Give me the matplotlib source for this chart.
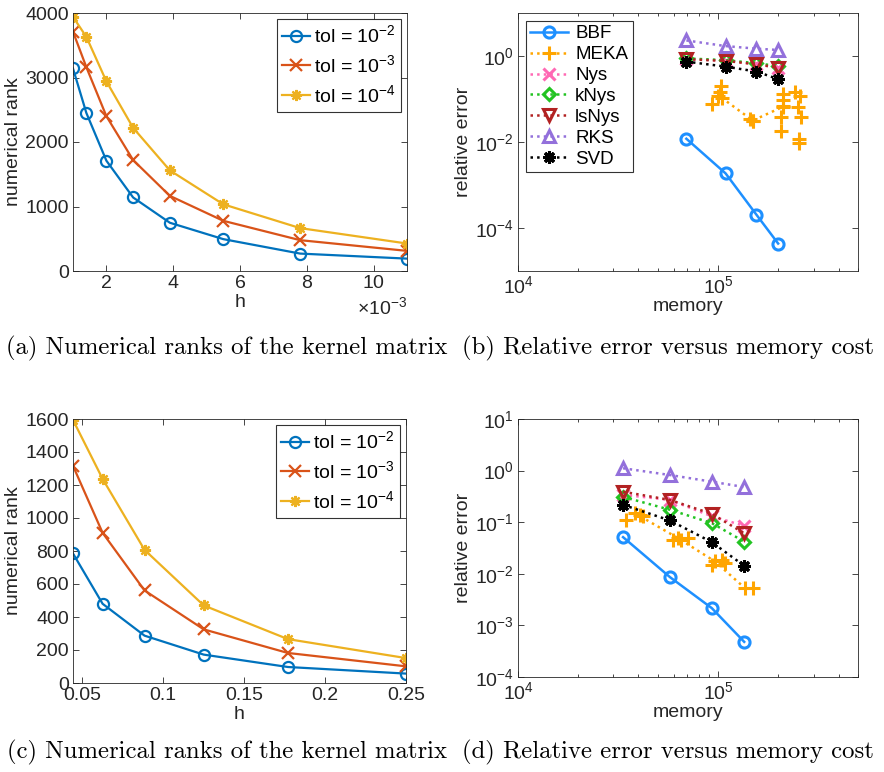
import numpy as np
import matplotlib
matplotlib.use("Agg")
import matplotlib.pyplot as plt
from matplotlib.ticker import LogLocator, NullLocator, FixedLocator

plt.rcParams["font.family"] = ["Liberation Sans", "DejaVu Sans"]
plt.rcParams["mathtext.default"] = "regular"
plt.rcParams["axes.unicode_minus"] = False

# ---- (a) numerical ranks, 2D problem
h_a = [1.0e-3, 1.4e-3, 2.0e-3, 2.8e-3, 3.9e-3, 5.5e-3, 7.8e-3, 11.0e-3]
rank_a_tol2 = [3140, 2450, 1710, 1140, 748, 494, 270, 192]
rank_a_tol3 = [3710, 3160, 2400, 1720, 1165, 778, 478, 312]
rank_a_tol4 = [3940, 3630, 2940, 2220, 1560, 1034, 665, 426]

# ---- (c) numerical ranks, second problem
h_c = [0.0442, 0.0625, 0.0884, 0.125, 0.177, 0.25]
rank_c_tol2 = [785, 480, 287, 172, 97, 57]
rank_c_tol3 = [1316, 910, 561, 325, 182, 101]
rank_c_tol4 = [1594, 1237, 807, 470, 266, 151]

tol_labels = ["tol = $10^{-2}$", "tol = $10^{-3}$", "tol = $10^{-4}$"]

# ---- (b) relative error vs memory
mem_b = [6.94e4, 1.09e5, 1.555e5, 1.995e5]
err_b = {
    "BBF": [1.19e-2, 1.86e-3, 2.03e-4, 4.35e-5],
    "Nys": [0.85, 0.78, 0.65, 0.52],
    "kNys": [0.88, 0.80, 0.68, 0.58],
    "lsNys": [0.84, 0.77, 0.64, 0.54],
    "RKS": [2.3, 1.70, 1.48, 1.38],
    "SVD": [0.74, 0.567, 0.435, 0.29],
}
meka_mem_b = [1.04e5, 1.49e5, 2.11e5]
meka_err_b = [0.107, 0.0316, 0.066]
meka_pts_mem_b = [1.028e5, 1.02e5, 1.0e5, 9.37e4, 1.44e5, 1.50e5, 2.11e5, 2.11e5, 2.11e5,
                  2.07e5, 2.07e5, 2.42e5, 2.56e5, 2.51e5, 2.61e5, 2.54e5, 2.54e5]
meka_pts_err_b = [0.203, 0.142, 0.119, 0.0767, 0.0345, 0.0315, 0.13, 0.095, 0.07,
                  0.0376, 0.0185, 0.142, 0.119, 0.064, 0.0376, 0.0119, 0.0093]

# ---- (d) relative error vs memory
mem_d = [3.35e4, 5.75e4, 9.3e4, 1.35e5]
err_d = {
    "BBF": [0.0513, 8.6e-3, 2.16e-3, 4.8e-4],
    "Nys": [0.34, 0.27, 0.13, 0.085],
    "kNys": [0.31, 0.174, 0.096, 0.042],
    "lsNys": [0.39, 0.27, 0.145, 0.061],
    "RKS": [1.11, 0.82, 0.61, 0.48],
    "SVD": [0.217, 0.108, 0.041, 0.0143],
}
meka_mem_d = [3.83e4, 6.31e4, 9.63e4, 1.36e5]
meka_err_d = [0.15, 0.049, 0.0174, 5.3e-3]
meka_pts_mem_d = [3.48e4, 4.05e4, 4.2e4, 5.96e4, 6.56e4, 7.08e4, 9.27e4, 1.04e5, 1.08e5, 1.5e5]
meka_pts_err_d = [0.111, 0.139, 0.129, 0.0456, 0.0456, 0.049, 0.015, 0.0187, 0.016, 5.3e-3]

rank_colors = ["#0072BD", "#D95319", "#EDB120"]
rank_markers = ["o", "x", (8, 2, 0)]

styles = {
    "BBF": dict(color="#1E90FF", marker="o", ls="-", ms=8),
    "MEKA": dict(color="#FFA500", marker="+", ls=":", ms=10),
    "Nys": dict(color="#FF69B4", marker="x", ls=":", ms=8),
    "kNys": dict(color="#22C322", marker="D", ls=":", ms=6),
    "lsNys": dict(color="#B22222", marker="v", ls=":", ms=9),
    "RKS": dict(color="#9370DB", marker="^", ls=":", ms=9),
    "SVD": dict(color="black", marker=(8, 2, 0), ls=":", ms=9),
}
method_order = ["BBF", "MEKA", "Nys", "kNys", "lsNys", "RKS", "SVD"]

FS = 14
fig = plt.figure(figsize=(8.84, 7.72), dpi=100)
W, H = 884, 772


def add_ax(x0, y0, x1, y1):
    return fig.add_axes([x0 / W, 1 - y1 / H, (x1 - x0) / W, (y1 - y0) / H])


def style_ax(ax):
    ax.tick_params(which="both", direction="in", top=True, right=True,
                   labelsize=FS, colors="#262626", width=0.6, pad=3)
    ax.tick_params(which="major", length=4)
    ax.tick_params(which="minor", length=2.2)
    for s in ax.spines.values():
        s.set_color("#262626")
        s.set_linewidth(0.6)


def rank_plot(ax, h, series):
    for vals, c, m, lab in zip(series, rank_colors, rank_markers, tol_labels):
        ax.plot(h, vals, color=c, marker=m, lw=1.6, ms=8, mew=1.6,
                mfc="none", label=lab)
    ax.set_ylabel("numerical rank", fontsize=FS, color="#262626", labelpad=2)
    ax.set_xlabel("h", fontsize=FS, color="#262626", labelpad=1)
    leg = ax.legend(loc="upper right", fontsize=FS, frameon=True, fancybox=False,
                    edgecolor="black", borderpad=0.3, labelspacing=0.4,
                    handlelength=1.4, handletextpad=0.2, borderaxespad=0.3)
    leg.get_frame().set_linewidth(0.8)
    style_ax(ax)


def err_plot(ax, mem, errs, meka_mem, meka_err, meka_pm, meka_pe, legend):
    for name in method_order:
        st = styles[name]
        if name == "MEKA":
            x, y = meka_mem, meka_err
        else:
            x, y = mem, errs[name]
        ax.plot(x, y, color=st["color"], marker=st["marker"], ls=st["ls"],
                lw=1.8, ms=st["ms"], mew=2.2, mfc="none", label=name)
        if name == "MEKA":
            ax.plot(meka_pm, meka_pe, color=st["color"], marker="+", ls="none",
                    ms=st["ms"], mew=2.2)
    ax.set_xscale("log")
    ax.set_yscale("log")
    ax.set_xlim(1e4, 5e5)
    ax.xaxis.set_major_locator(FixedLocator([1e4, 1e5]))
    ax.xaxis.set_minor_locator(LogLocator(base=10, subs=np.arange(2, 10), numticks=20))
    ax.set_xlabel("memory", fontsize=FS, color="#262626", labelpad=1)
    ax.set_ylabel("relative error", fontsize=FS, color="#262626", labelpad=2)
    if legend:
        leg = ax.legend(loc="upper left", fontsize=13.5, frameon=True, fancybox=False,
                        edgecolor="black", borderpad=0.25, labelspacing=0.2,
                        handlelength=2.0, handletextpad=0.4, borderaxespad=0.4)
        leg.get_frame().set_linewidth(0.8)
    style_ax(ax)


# (a)
ax_a = add_ax(73, 13, 407, 271)
rank_plot(ax_a, h_a, [rank_a_tol2, rank_a_tol3, rank_a_tol4])
ax_a.set_xlim(1e-3, 11e-3)
ax_a.set_ylim(0, 4000)
ax_a.set_xticks([2e-3, 4e-3, 6e-3, 8e-3, 10e-3])
ax_a.set_yticks([0, 1000, 2000, 3000, 4000])
ax_a.ticklabel_format(axis="x", style="sci", scilimits=(-3, -3), useMathText=True)
ax_a.xaxis.get_offset_text().set_fontsize(FS)

# (b)
ax_b = add_ax(518, 13, 858, 271)
err_plot(ax_b, mem_b, err_b, meka_mem_b, meka_err_b, meka_pts_mem_b, meka_pts_err_b, True)
ax_b.set_ylim(1e-5, 10)
ax_b.yaxis.set_major_locator(FixedLocator([1e-4, 1e-2, 1e0]))
ax_b.yaxis.set_minor_locator(NullLocator())

# (c)
ax_c = add_ax(73, 419, 406, 683)
rank_plot(ax_c, h_c, [rank_c_tol2, rank_c_tol3, rank_c_tol4])
ax_c.set_xlim(0.0442, 0.25)
ax_c.set_ylim(0, 1600)
ax_c.set_xticks([0.05, 0.1, 0.15, 0.2, 0.25])
ax_c.set_xticklabels(["0.05", "0.1", "0.15", "0.2", "0.25"])
ax_c.set_yticks(np.arange(0, 1601, 200))

# (d)
ax_d = add_ax(518, 419, 858, 677)
err_plot(ax_d, mem_d, err_d, meka_mem_d, meka_err_d, meka_pts_mem_d, meka_pts_err_d, False)
ax_d.set_ylim(1e-4, 10)
ax_d.yaxis.set_major_locator(FixedLocator([1e-4, 1e-3, 1e-2, 1e-1, 1e0, 1e1]))
ax_d.yaxis.set_minor_locator(NullLocator())

# captions
cap = dict(fontsize=17.8, family="cmr10", ha="center", va="center")
fig.text(227 / W, 1 - 348 / H, "(a) Numerical ranks of the kernel matrix", **cap)
fig.text(668 / W, 1 - 348 / H, "(b) Relative error versus memory cost", **cap)
fig.text(227 / W, 1 - 752 / H, "(c) Numerical ranks of the kernel matrix", **cap)
fig.text(668 / W, 1 - 752 / H, "(d) Relative error versus memory cost", **cap)

fig.savefig("out.png", dpi=100)
